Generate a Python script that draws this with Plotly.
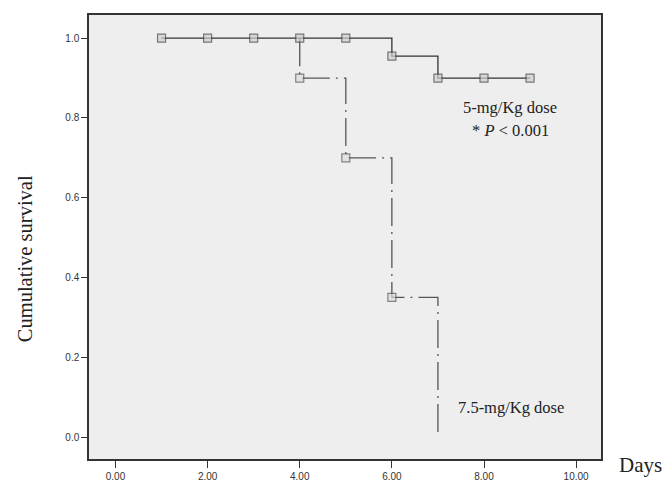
import plotly.graph_objects as go

# Kaplan-Meier style data
days_5mg = [1, 2, 3, 4, 5, 6, 7, 8, 9]
surv_5mg = [1.0, 1.0, 1.0, 1.0, 1.0, 0.955, 0.9, 0.9, 0.9]
marker_5mg = [True] * 9

days_75mg = [4, 4, 5, 6, 7]
surv_75mg = [1.0, 0.9, 0.7, 0.35, 0.0]
marker_75mg = [False, True, True, True, False]

x_ticks = [0, 2, 4, 6, 8, 10]
x_labels = ["0.00", "2.00", "4.00", "6.00", "8.00", "10.00"]
y_ticks = [0.0, 0.2, 0.4, 0.6, 0.8, 1.0]
y_labels = ["0.0", "0.2", "0.4", "0.6", "0.8", "1.0"]

fig = go.Figure()

fig.add_trace(go.Scatter(
    x=days_75mg, y=surv_75mg, mode="lines+markers", line_shape="hv",
    line=dict(color="#555555", width=1.3, dash="28px,6px,2px,6px"),
    marker=dict(symbol="square", size=[8 if m else 0 for m in marker_75mg],
                color="#dddddd", line=dict(color="#555555", width=1.2)),
    showlegend=False,
))

fig.add_trace(go.Scatter(
    x=days_5mg, y=surv_5mg, mode="lines+markers", line_shape="hv",
    line=dict(color="#333333", width=1.3),
    marker=dict(symbol="square", size=[8 if m else 0 for m in marker_5mg],
                color="#cfcfcf", line=dict(color="#444444", width=1.2)),
    showlegend=False,
))

serif = "Liberation Serif, Times New Roman, serif"

fig.add_annotation(x=8.57, y=0.827, xref="x", yref="y", text="5-mg/Kg dose",
                   xanchor="center", yanchor="middle",
                   showarrow=False, font=dict(family=serif, size=16.5, color="#222"))
fig.add_annotation(x=8.57, y=0.769, xref="x", yref="y",
                   text="* <i>P</i> < 0.001", xanchor="center", yanchor="middle",
                   showarrow=False, font=dict(family=serif, size=16.5, color="#222"))
fig.add_annotation(x=8.59, y=0.073, xref="x", yref="y", text="7.5-mg/Kg dose",
                   xanchor="center", yanchor="middle",
                   showarrow=False, font=dict(family=serif, size=16.5, color="#222"))

fig.add_annotation(x=1.0, y=-0.013, xref="paper", yref="paper", text="Days",
                   xanchor="left", yanchor="middle", showarrow=False,
                   xshift=16,
                   font=dict(family=serif, size=21, color="#222"))
fig.add_annotation(x=-0.125, y=0.45, xref="paper", yref="paper",
                   text="Cumulative survival", textangle=-90,
                   xanchor="center", yanchor="middle",
                   showarrow=False, font=dict(family=serif, size=20.5, color="#222"))

fig.update_xaxes(
    range=[-0.575, 10.54], tickvals=x_ticks, ticktext=x_labels,
    showgrid=False, zeroline=False, showline=True, mirror=True,
    linecolor="#333333", linewidth=1.5, ticks="outside", ticklen=7,
    tickcolor="#333333", tickwidth=1.3, automargin=False,
    tickfont=dict(family="Liberation Sans, Arial, sans-serif", size=10, color="#333"),
)
fig.update_yaxes(
    range=[-0.055, 1.058], tickvals=y_ticks, ticktext=y_labels,
    showgrid=False, zeroline=False, showline=True, mirror=True,
    linecolor="#333333", linewidth=1.5, ticks="outside", ticklen=6,
    tickcolor="#333333", tickwidth=1.3, automargin=False,
    tickfont=dict(family="Liberation Sans, Arial, sans-serif", size=10, color="#333"),
)

fig.update_layout(
    width=666, height=482,
    margin=dict(l=89, r=65, t=15, b=23),
    plot_bgcolor="#eeeeee", paper_bgcolor="white",
    showlegend=False,
)

fig.write_html("out.html")
